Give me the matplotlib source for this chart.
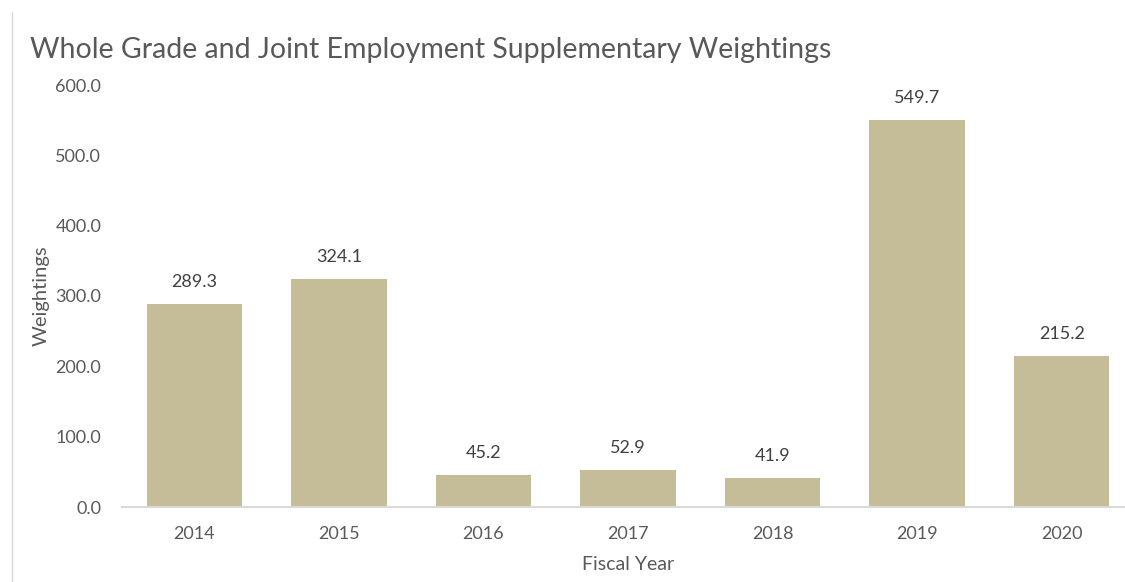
import matplotlib
matplotlib.use("Agg")
import matplotlib.pyplot as plt
from matplotlib.lines import Line2D

years = ["2014", "2015", "2016", "2017", "2018", "2019", "2020"]
weightings = [289.3, 324.1, 45.2, 52.9, 41.9, 549.7, 215.2]
yticks = [0, 100, 200, 300, 400, 500, 600]

plt.rcParams['font.family'] = ['Lato', 'DejaVu Sans']
W, H = 1125, 582
fig = plt.figure(figsize=(W/100, H/100), dpi=100)
ax = fig.add_axes([122/W, 1-507/H, (1134-122)/W, (507-85)/H])

x = range(len(years))
bars = ax.bar(x, weightings, width=0.66, color="#C4BD97")
ax.set_xlim(-0.5, len(years)-0.5)
ax.set_ylim(0, 600)
ax.set_yticks(yticks)
ax.set_yticklabels([f"{v:.1f}" for v in yticks])
ax.set_xticks(list(x))
ax.set_xticklabels(years)
for s in ["top", "right", "left"]:
    ax.spines[s].set_visible(False)
ax.spines["bottom"].set_color("#D9D9D9")
ax.spines["bottom"].set_linewidth(1.5)
ax.tick_params(axis="both", length=0, labelsize=13, colors="#595959")
ax.tick_params(axis="y", pad=15)
ax.tick_params(axis="x", pad=14)
for xi, v in zip(x, weightings):
    ax.annotate(f"{v:.1f}", (xi, v), xytext=(0, 10), textcoords="offset points",
                ha="center", va="bottom", fontsize=13, color="#404040")
ax.set_xlabel("Fiscal Year", fontsize=14, color="#595959", labelpad=10)
ax.set_ylabel("Weightings", fontsize=14.5, color="#595959", labelpad=4)
fig.text(30/W, 1-50/H, "Whole Grade and Joint Employment Supplementary Weightings",
         fontsize=20.5, color="#595959", va="center", ha="left")
fig.add_artist(Line2D([12/W, 12/W], [0, 1-12/H], color="#D9D9D9", lw=1, transform=fig.transFigure))
fig.savefig("out.png", dpi=100)
